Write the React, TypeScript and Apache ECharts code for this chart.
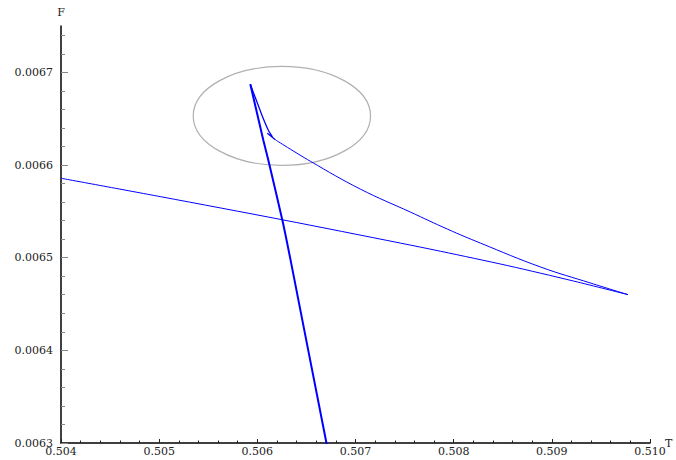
import React, { useEffect, useRef } from "react";
import * as echarts from "echarts";

// Axis ticks
const T_TICKS = [0.504, 0.505, 0.506, 0.507, 0.508, 0.509, 0.51];
const F_TICKS = [0.0063, 0.0064, 0.0065, 0.0066, 0.0067];
const F_MINOR_STEP = 0.00002;
const F_MAX = 0.00675;

// Free energy F(T): stable branch running to the right-hand cusp
const lowerBranch: [number, number][] = [
  [0.504, 0.0065857],
  [0.50501, 0.0065659],
  [0.506255, 0.0065409],
  [0.507459, 0.0065157],
  [0.507867, 0.0065069],
  [0.508551, 0.0064914],
  [0.509224, 0.0064747],
  [0.509776, 0.0064601],
];

// Unstable branch back from the right cusp towards the small swallowtail
const upperBranch: [number, number][] = [
  [0.509776, 0.0064601],
  [0.509398, 0.0064725],
  [0.5088878, 0.0064898],
  [0.5082755, 0.0065156],
  [0.5079388, 0.0065307],
  [0.5075612, 0.0065491],
  [0.507051, 0.0065739],
  [0.5065408, 0.006604],
  [0.5061837, 0.0066272],
];

// Tiny swallowtail kink
const kink: [number, number][] = [
  [0.5061837, 0.0066272],
  [0.506102, 0.0066342],
  [0.5061531, 0.0066305],
];

// Short branch up to the top cusp
const cuspBranch: [number, number][] = [
  [0.5061531, 0.0066305],
  [0.5061122, 0.0066375],
  [0.506051, 0.0066526],
  [0.5059898, 0.0066698],
  [0.5059286, 0.0066871],
];

// Steep branch from the top cusp down through the bottom of the frame
const steepBranch: [number, number][] = [
  [0.5059286, 0.0066871],
  [0.5060612, 0.0066267],
  [0.5061122, 0.0066051],
  [0.5062551, 0.0065404],
  [0.5063367, 0.0064984],
  [0.5067041, 0.0063],
  [0.5067551, 0.0062752],
];

// Highlight ellipse around the cusp region (centre and half-axes in data units)
const ELLIPSE_CENTER: [number, number] = [0.50625, 0.006653];
const ELLIPSE_RADII: [number, number] = [0.000903, 0.0000534];

const FONT = "DejaVu Serif";

export default function App() {
  const ref = useRef<HTMLDivElement>(null);

  useEffect(() => {
    if (!ref.current) return;
    const chart = echarts.init(ref.current, undefined, { renderer: "svg" });

    const fMinor: number[] = [];
    for (let i = 0; i < F_TICKS.length; i++) {
      for (let k = 1; k < 5; k++) {
        const v = +(F_TICKS[i] + k * F_MINOR_STEP).toFixed(6);
        if (v < F_MAX) fMinor.push(v);
      }
    }

    const blue = "#0000ff";
    const line = (data: [number, number][], width: number, smooth: number | boolean = false) => ({
      type: "line",
      data,
      showSymbol: false,
      symbol: "none",
      silent: true,
      clip: true,
      smooth,
      lineStyle: { color: blue, width },
    });

    chart.setOption({
      animation: false,
      backgroundColor: "#ffffff",
      grid: { left: 61, right: 26, top: 26, bottom: 17, outerBoundsMode: "none" },
      xAxis: {
        type: "value",
        min: T_TICKS[0],
        max: T_TICKS[T_TICKS.length - 1],
        interval: 0.001,
        name: "T",
        nameLocation: "end",
        nameGap: 15,
        nameMoveOverlap: false,
        nameTextStyle: { fontFamily: FONT, fontSize: 11, color: "#222" },
        axisLine: { show: true, onZero: false, lineStyle: { color: "#000", width: 1.5 } },
        axisTick: { show: true, inside: true, length: 4, lineStyle: { color: "#222" } },
        minorTick: { show: true, splitNumber: 5, length: 2.5, lineStyle: { color: "#222" } },
        splitLine: { show: false },
        axisLabel: {
          margin: 3,
          fontFamily: FONT,
          fontSize: 11,
          color: "#222",
          formatter: (v: number) => v.toFixed(3),
        },
      },
      yAxis: [
        {
          type: "value",
          min: F_TICKS[0],
          max: F_MAX,
          name: "F",
          nameLocation: "end",
          nameGap: 8,
          nameMoveOverlap: false,
          nameTextStyle: { fontFamily: FONT, fontSize: 11, color: "#222" },
          axisLine: { show: true, onZero: false, lineStyle: { color: "#000", width: 1.5 } },
          axisTick: {
            show: true,
            inside: true,
            length: 7,
            customValues: F_TICKS,
            lineStyle: { color: "#888" },
          },
          splitLine: { show: false },
          axisLabel: {
            margin: 8,
            fontFamily: FONT,
            fontSize: 11,
            color: "#222",
            customValues: F_TICKS,
            formatter: (v: number) => v.toFixed(4),
          },
        },
        {
          type: "value",
          min: F_TICKS[0],
          max: F_MAX,
          position: "left",
          axisLine: { show: false },
          axisTick: {
            show: true,
            inside: true,
            length: 4,
            customValues: fMinor,
            lineStyle: { color: "#888" },
          },
          splitLine: { show: false },
          axisLabel: { show: false },
        },
      ],
      series: [
        line(lowerBranch, 1, 0.3),
        line(upperBranch, 1, 0.4),
        line(kink, 1.3),
        line(cuspBranch, 1.3, 0.2),
        line(steepBranch, 2, 0.2),
      ],
    });

    const c = chart.convertToPixel({ gridIndex: 0 }, ELLIPSE_CENTER) as number[];
    const ex = chart.convertToPixel({ gridIndex: 0 }, [
      ELLIPSE_CENTER[0] + ELLIPSE_RADII[0],
      ELLIPSE_CENTER[1] + ELLIPSE_RADII[1],
    ]) as number[];
    chart.setOption({
      graphic: [
        {
          type: "ellipse",
          silent: true,
          z: 1,
          shape: { cx: c[0], cy: c[1], rx: Math.abs(ex[0] - c[0]), ry: Math.abs(ex[1] - c[1]) },
          style: { fill: "none", stroke: "#b0b0b0", lineWidth: 1.2 },
        },
      ],
    });

    return () => chart.dispose();
  }, []);

  return (
    <div
      ref={ref}
      style={{ position: "fixed", left: 0, top: 0, width: 676, height: 460, background: "#fff" }}
    />
  );
}
